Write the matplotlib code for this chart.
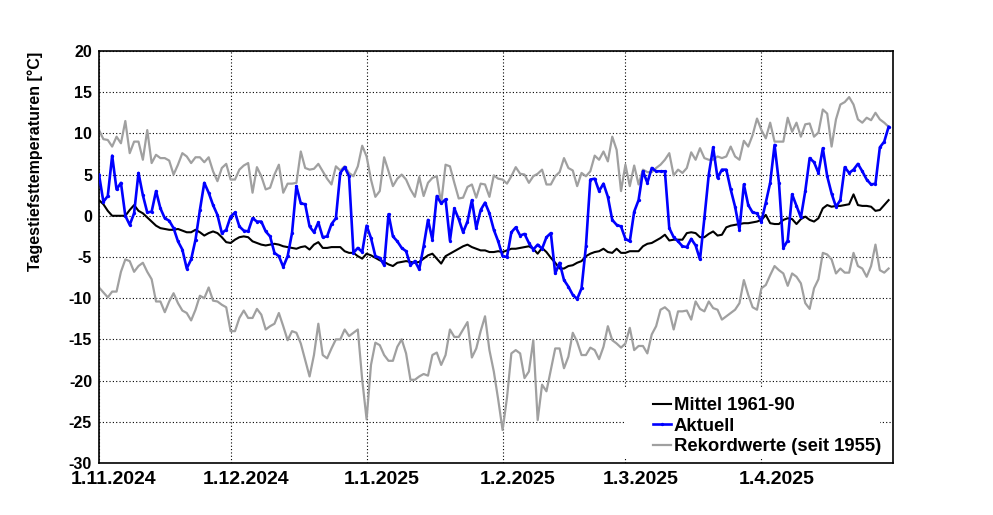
import numpy as np
import pandas as pd
import matplotlib
matplotlib.use("Agg")
import matplotlib.pyplot as plt
import matplotlib.transforms as mtransforms
from matplotlib.patches import Rectangle

plt.rcParams['font.family'] = ['Liberation Sans', 'DejaVu Sans']
plt.rcParams['font.weight'] = 'bold'

# ====================================
# Data (daily minimum temperatures, 1.11.2024 - 30.4.2025)
# ====================================
start_date = "2024-11-01"
end_date = "2025-05-01"

mittel = [
    1.9, 1.4, 0.6, 0.0, 0.0, 0.0, 0.0, 0.7, 1.3, 0.6, 0.3, -0.2, -0.7, -1.2, -1.5, -1.6,
    -1.7, -1.7, -1.6, -1.8, -2.0, -2.0, -1.7, -2.0, -2.4, -2.1, -1.9, -2.1, -2.6, -3.2,
    -3.3, -2.9, -2.6, -2.5, -2.6, -3.1, -3.3, -3.5, -3.6, -3.5, -3.4, -3.5,
    -3.7, -3.8, -3.9, -4.0, -3.8, -3.7, -4.1, -3.5, -3.2, -3.9, -3.9, -3.8, -3.8, -3.8,
    -4.3, -4.5, -4.5, -4.9, -5.2, -4.6, -4.8, -5.1, -5.4, -5.6, -5.9, -6.1, -5.7, -5.6,
    -5.5, -5.6, -5.7, -5.6, -5.2, -4.8, -4.6, -5.2, -5.8, -4.9, -4.6, -4.3, -4.0, -3.7,
    -3.5, -3.8, -4.0,
    -4.2, -4.2, -4.4, -4.4, -4.3, -4.4, -4.2, -4.0, -4.0, -3.9, -3.8, -3.7, -4.0, -4.6,
    -3.9, -4.4, -5.1, -5.7, -6.4, -6.4, -6.1, -6.0, -5.7, -5.5, -4.9, -4.6, -4.4, -4.3,
    -4.0, -4.4, -4.5, -4.0, -4.5, -4.5, -4.3, -4.3, -4.3, -3.7, -3.4, -3.3, -3.0, -2.7,
    -2.3, -3.0, -2.9,
    -2.9, -2.9, -2.1, -2.0, -2.1, -2.6, -2.6, -2.2, -1.9, -2.4, -2.3, -1.4, -1.2, -1.1,
    -1.0, -0.9, -0.9, -0.8, -0.7, -0.5, 0.1, -0.9, -1.0, -1.0, -0.5, -0.3, -0.4, -1.0,
    -0.4, -0.1, -0.5, -0.7, -0.3, 0.9, 1.3, 1.1, 1.2, 1.2, 1.3, 1.4, 2.6, 1.3, 1.2, 1.2,
    1.1, 0.6, 0.7, 1.3, 1.9,
]

aktuell = [
    5.0, 1.7, 2.4, 7.3, 3.2, 4.0, 0.0, -1.1, 0.3, 5.2, 2.5, 0.4, 0.5, 3.0, 0.9, -0.3,
    -0.6, -1.5, -3.1, -4.1, -6.4, -5.3, -2.9, 0.7, 4.0, 2.8, 1.3, 0.1, -2.1, -1.7, -0.1,
    0.4, -1.3, -1.8, -1.9, -0.3, -0.7, -0.7, -1.9, -2.5, -4.5, -4.9,
    -6.2, -4.9, -2.1, 3.6, 1.5, 1.4, -1.3, -2.0, -0.8, -2.6, -2.5, -1.0, -0.3, 5.2, 5.9,
    4.8, -4.5, -3.9, -4.4, -1.2, -2.7, -4.9, -5.1, -6.0, 0.2, -2.5, -3.1, -3.9, -4.3,
    -6.0, -5.5, -6.5, -3.7, -0.5, -2.9, 2.4, 1.5, 2.0, -3.0, 0.9, -0.4, -2.0, -0.7, 1.9,
    -1.5,
    0.7, 1.6, 0.3, -1.7, -3.1, -4.9, -5.0, -2.0, -1.4, -2.4, -2.2, -3.3, -4.1, -3.5,
    -4.0, -2.6, -2.1, -7.0, -5.7, -7.8, -8.6, -9.6, -10.1, -8.8, -3.7, 4.4, 4.5, 3.0,
    3.9, 2.3, -0.5, -1.1, -1.3, -2.8, -3.1, 0.5, 1.9, 5.4, 4.0, 5.8, 5.4, 5.4, 5.4,
    -1.5, -2.6,
    -3.1, -3.7, -3.8, -2.8, -3.6, -5.3, -0.3, 5.0, 8.3, 4.6, 5.6, 5.6, 3.2, 1.1, -1.7,
    3.8, 1.3, 0.4, 0.3, -0.7, 1.6, 4.0, 8.6, 4.0, -3.9, -3.0, 2.6, 1.2, -0.2, 3.0, 7.0,
    6.5, 5.2, 8.2, 4.8, 2.7, 1.1, 1.9, 5.9, 5.2, 5.6, 6.3, 5.4, 4.4, 3.8, 3.9, 8.3, 9.0,
    10.8,
]

rekord_max = [
    10.4, 9.3, 9.2, 8.4, 9.6, 8.8, 11.5, 7.6, 9.0, 9.0, 6.8, 10.4, 6.4, 7.4, 7.0, 7.0,
    6.7, 5.0, 6.2, 7.6, 7.2, 6.4, 7.1, 7.1, 6.5, 7.1, 5.4, 4.2, 5.8, 6.3, 4.4, 4.4, 5.6,
    6.1, 6.4, 2.8, 5.9, 4.8, 3.2, 3.4, 5.0, 6.2,
    2.8, 3.9, 3.9, 4.0, 7.8, 5.8, 5.6, 5.7, 6.3, 5.4, 4.5, 3.8, 6.0, 5.5, 6.0, 5.2, 4.8,
    6.0, 8.5, 7.2, 4.4, 2.3, 3.0, 7.1, 5.4, 3.6, 4.5, 5.0, 4.4, 3.2, 2.3, 4.7, 2.4, 4.0,
    4.6, 4.8, 1.5, 6.2, 6.0, 4.0, 2.1, 2.2, 3.5, 3.8, 2.2,
    3.9, 3.8, 2.3, 4.9, 4.5, 4.4, 3.9, 4.8, 5.9, 5.1, 5.0, 4.0, 4.8, 5.1, 5.6, 3.8, 3.8,
    4.8, 5.3, 7.0, 5.8, 5.5, 3.6, 5.2, 4.8, 5.4, 7.3, 6.8, 7.8, 6.6, 9.6, 8.0, 3.0, 6.2,
    3.6, 6.1, 3.8, 5.6, 5.3, 5.3, 5.8, 6.2, 6.8, 7.6, 4.9,
    5.6, 5.2, 5.8, 7.7, 6.8, 8.2, 7.0, 6.8, 6.8, 7.2, 7.0, 7.2, 8.4, 7.2, 6.8, 9.1, 8.4,
    9.8, 11.8, 10.4, 9.4, 11.3, 9.0, 9.0, 9.0, 11.9, 10.2, 11.3, 9.6, 11.1, 11.2, 9.6,
    10.1, 12.9, 12.4, 8.4, 11.7, 13.5, 13.8, 14.4, 13.5, 11.7, 11.3, 11.9, 11.6, 12.5,
    11.7, 11.3, 10.8,
]

rekord_min = [
    -8.7, -9.3, -9.9, -9.2, -9.2, -6.8, -5.3, -5.5, -6.8, -6.1, -5.7, -6.8, -7.7, -10.4,
    -10.4, -11.7, -10.4, -9.4, -10.6, -11.5, -11.8, -12.7, -11.4, -9.7, -10.0, -8.7,
    -10.3, -10.4, -10.8, -11.1, -14.0, -14.0, -12.4, -11.5, -12.4, -12.4, -11.3, -12.0,
    -13.8, -13.4, -13.1, -11.8,
    -13.4, -15.1, -14.0, -14.2, -15.5, -17.5, -19.5, -16.9, -13.1, -16.9, -17.3, -16.1,
    -15.0, -15.0, -13.8, -14.6, -14.2, -13.8, -19.9, -24.7, -18.1, -15.4, -15.7, -16.9,
    -17.6, -17.6, -15.9, -15.0, -16.7, -19.9, -19.9, -19.5, -19.2, -19.4, -16.9, -16.6,
    -18.1, -16.9, -13.8, -14.7, -14.7, -13.8, -12.9, -17.2, -16.1,
    -14.0, -12.2, -16.3, -18.9, -22.3, -26.0, -22.1, -16.7, -16.3, -16.7, -19.7, -18.9,
    -15.1, -24.8, -20.5, -21.3, -18.7, -16.1, -16.1, -18.5, -17.1, -14.2, -15.3, -16.9,
    -16.9, -16.0, -16.3, -17.4, -15.9, -13.4, -15.1, -15.5, -16.0, -15.5, -13.6, -16.3,
    -15.8, -15.8, -16.7, -14.4, -13.4, -11.4, -11.1, -11.6, -13.8,
    -11.6, -11.6, -11.5, -12.6, -10.4, -11.3, -11.6, -10.4, -11.2, -11.4, -12.6, -12.2,
    -11.8, -11.4, -10.6, -7.8, -9.6, -11.1, -11.4, -8.8, -8.4, -7.2, -6.1, -6.6, -7.0,
    -8.5, -7.0, -7.4, -8.2, -10.6, -11.3, -8.8, -7.7, -4.5, -4.7, -5.3, -7.0, -6.4, -6.9,
    -6.9, -4.5, -6.1, -6.4, -7.4, -6.1, -3.5, -6.6, -6.9, -6.4,
]

month_ticks = ["2024-11-01", "2024-12-01", "2025-01-01", "2025-02-01",
               "2025-03-01", "2025-04-01"]
month_labels = ["1.11.2024", "1.12.2024", "1.1.2025", "1.2.2025",
                "1.3.2025", "1.4.2025"]
y_ticks = [20, 15, 10, 5, 0, -5, -10, -15, -20, -25, -30]
legend_labels = ["Mittel 1961-90", "Aktuell", "Rekordwerte (seit 1955)"]

dates = pd.date_range(start_date, periods=len(aktuell), freq="D")

# ====================================
# Plot
# ====================================
fig = plt.figure(figsize=(9.93, 5.15), dpi=100)
ax = fig.add_axes([0.0997, 0.101, 0.7996, 0.80])

grey = "#a0a0a0"
l_max, = ax.plot(dates, rekord_max, color=grey, lw=1.6, zorder=2)
l_min, = ax.plot(dates, rekord_min, color=grey, lw=1.6, zorder=2)
l_mit, = ax.plot(dates, mittel, color="black", lw=1.5, zorder=3)
l_akt, = ax.plot(dates, aktuell, color="#0000ff", lw=1.9, marker="o", ms=2.4,
                 markeredgewidth=0, zorder=4)

ax.set_xlim(pd.Timestamp(start_date), pd.Timestamp(end_date))
ax.set_ylim(-30, 20)

ax.set_xticks(pd.to_datetime(month_ticks))
ax.set_xticklabels(month_labels, fontsize=14, fontweight="bold")
ax.set_yticks(y_ticks)
ax.set_yticklabels([str(v) for v in y_ticks], fontsize=11.5, fontweight="bold")
ax.tick_params(length=0, pad=5)
ax.tick_params(axis="x", pad=6)

# labels sit a bit right of their tick (as in the original)
offset = mtransforms.ScaledTranslation(15 / 100, 0, fig.dpi_scale_trans)
for lab in ax.get_xticklabels():
    lab.set_transform(lab.get_transform() + offset)

ax.grid(True, color="black", linestyle=(0, (1, 2)), linewidth=0.8)
ax.set_axisbelow(True)
for sp in ax.spines.values():
    sp.set_linewidth(1.2)

fig.text(35 / 993, 1 - 161 / 515, "Tagestiefsttemperaturen [°C]",
         rotation=90, ha="center", va="center", fontsize=11.5, fontweight="bold")

# Legend (white box without border)
ax.add_patch(Rectangle((0.661, 0.015), 0.323, 0.17, transform=ax.transAxes,
                       facecolor="white", edgecolor="none", zorder=1.5))
leg = ax.legend(handles=[l_mit, l_akt, l_max], labels=legend_labels,
                loc="upper left", bbox_to_anchor=(0.6977, 0.1595),
                frameon=False, borderpad=0, borderaxespad=0,
                handlelength=0.95, handletextpad=0.18, labelspacing=0.19,
                numpoints=1, prop={"size": 13.3, "weight": "bold"})

plt.savefig("out.png", dpi=100)
plt.close()
